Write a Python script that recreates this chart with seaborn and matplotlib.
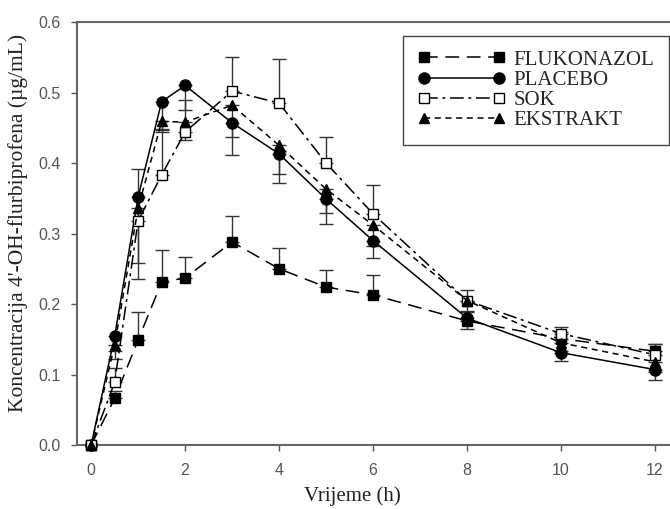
import pandas as pd
import numpy as np
import seaborn as sns
import matplotlib.pyplot as plt

# time points (h)
vrijeme = [0, 0.5, 1, 1.5, 2, 3, 4, 5, 6, 8, 10, 12]

flukonazol = [0, 0.066, 0.149, 0.231, 0.237, 0.288, 0.250, 0.224, 0.213, 0.176, 0.151, 0.133]
flukonazol_err = [0, 0.010, 0.040, 0.045, 0.030, 0.037, 0.030, 0.024, 0.028, 0.012, 0.010, 0.010]

placebo = [0, 0.154, 0.352, 0.487, 0.510, 0.457, 0.413, 0.349, 0.290, 0.180, 0.131, 0.107]
placebo_err = [0, 0.020, 0.094, 0.040, 0.035, 0.046, 0.042, 0.035, 0.025, 0.015, 0.012, 0.015]

sok = [0, 0.089, 0.318, 0.383, 0.444, 0.502, 0.485, 0.400, 0.328, 0.205, 0.158, 0.128]
sok_err = [0, 0.020, 0.073, 0.065, 0.045, 0.048, 0.062, 0.037, 0.041, 0.015, 0.010, 0.015]

ekstrakt = [0, 0.142, 0.336, 0.459, 0.458, 0.482, 0.425, 0.363, 0.312, 0.205, 0.145, 0.118]
ekstrakt_err = [0, 0.020, 0.100, 0.015, 0.026, 0.045, 0.040, 0.034, 0.030, 0.015, 0.012, 0.015]

groups = ['FLUKONAZOL', 'PLACEBO', 'SOK', 'EKSTRAKT']

df = pd.concat([
    pd.DataFrame({'t': vrijeme, 'c': flukonazol, 'grupa': 'FLUKONAZOL'}),
    pd.DataFrame({'t': vrijeme, 'c': placebo, 'grupa': 'PLACEBO'}),
    pd.DataFrame({'t': vrijeme, 'c': sok, 'grupa': 'SOK'}),
    pd.DataFrame({'t': vrijeme, 'c': ekstrakt, 'grupa': 'EKSTRAKT'}),
])

sns.set_style("ticks")
plt.rcParams['font.family'] = ['Liberation Sans', 'DejaVu Sans']

fig = plt.figure(figsize=(6.7, 5.09), dpi=100)
ax = fig.add_axes([0.115, 0.1257, 0.885, 0.831])

# error bars: upper for FLUKONAZOL / SOK, lower for PLACEBO / EKSTRAKT
t = np.array(vrijeme)
zeros = np.zeros(len(t))
ax.errorbar(t, flukonazol, yerr=[zeros, flukonazol_err], fmt='none', ecolor='#333333',
            elinewidth=1, capsize=5, capthick=1, zorder=1)
ax.errorbar(t, sok, yerr=[zeros, sok_err], fmt='none', ecolor='#333333',
            elinewidth=1, capsize=5, capthick=1, zorder=1)
ax.errorbar(t, placebo, yerr=[placebo_err, zeros], fmt='none', ecolor='#333333',
            elinewidth=1, capsize=5, capthick=1, zorder=1)
ax.errorbar(t, ekstrakt, yerr=[ekstrakt_err, zeros], fmt='none', ecolor='#333333',
            elinewidth=1, capsize=5, capthick=1, zorder=1)

n_before = len(ax.lines)
sns.lineplot(data=df, x='t', y='c', hue='grupa', style='grupa', hue_order=groups, style_order=groups,
             palette=['black'] * 4,
             markers={'FLUKONAZOL': 's', 'PLACEBO': 'o', 'SOK': 's', 'EKSTRAKT': '^'},
             dashes={'FLUKONAZOL': (9, 5), 'PLACEBO': '', 'SOK': (9, 3, 2, 3), 'EKSTRAKT': (4, 3)},
             markersize=7, markeredgecolor='black', markeredgewidth=1, linewidth=1.1,
             legend=False, ax=ax, zorder=3)

handles = ax.lines[n_before:n_before + 4]
for h in handles:
    h.set_clip_on(False)
handles[2].set_markerfacecolor('white')
handles[1].set_markersize(8)

ax.legend(handles, groups, loc='upper right', bbox_to_anchor=(0.998, 0.968), numpoints=2,
          handlelength=4.2, handletextpad=0.4, labelspacing=0.03, borderpad=0.7,
          borderaxespad=0.0, fancybox=False, framealpha=1, edgecolor='#444444',
          prop={'family': 'Liberation Serif', 'size': 15})

ax.set_xlim(-0.3, 12.32)
ax.set_ylim(0, 0.6)
ax.set_xticks([0, 2, 4, 6, 8, 10, 12])
ax.set_yticks([0.0, 0.1, 0.2, 0.3, 0.4, 0.5, 0.6])
ax.set_yticklabels(['0.0', '0.1', '0.2', '0.3', '0.4', '0.5', '0.6'])
ax.tick_params(axis='both', direction='out', length=4, width=1, color='#555555',
               labelcolor='#555555', labelsize=11.5)
ax.tick_params(axis='x', pad=9)
ax.tick_params(axis='y', pad=8)

ax.set_xlabel('Vrijeme (h)', family='Liberation Serif', fontsize=15, color='#222222')
ax.set_ylabel('Koncentracija 4\'-OH-flurbiprofena (µg/mL)', family='Liberation Serif',
              fontsize=15.5, color='#222222')
ax.xaxis.set_label_coords(0.464, -0.097)
ax.yaxis.set_label_coords(-0.083, 0.525)

for s in ['left', 'bottom', 'top']:
    ax.spines[s].set_color('#666666')
    ax.spines[s].set_linewidth(1.5)
ax.spines['right'].set_visible(False)

plt.savefig('out.png', dpi=100)
